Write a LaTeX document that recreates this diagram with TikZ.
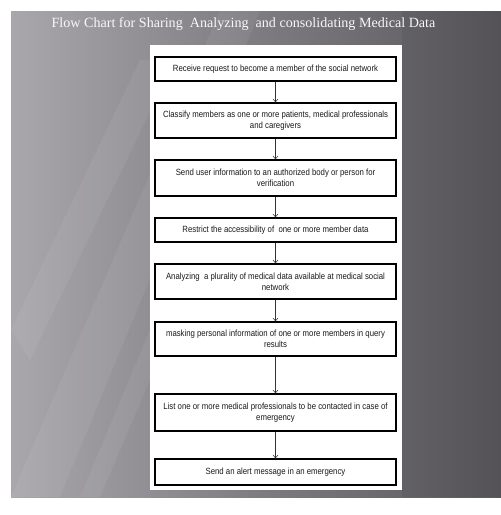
\documentclass[tikz,border=0pt]{standalone}
\usepackage{fontspec}
\usetikzlibrary{arrows.meta}
\newfontfamily\boxfont[FakeStretch=0.865]{Liberation Sans}
\newfontfamily\titlefont{Liberation Serif}
\definecolor{bgleft}{HTML}{A9A7AC}
\definecolor{bgmid}{HTML}{7E7C81}
\definecolor{bgright}{HTML}{5A585D}
\tikzset{
  fbox/.style={draw=black, line width=1.3pt, fill=white, minimum width=241pt,
    inner sep=1pt, align=center, font=\boxfont\fontsize{9}{11}\selectfont, text=black!90},
  arr/.style={draw=black!80, line width=0.5pt, -{Straight Barb[length=3pt,width=5pt]}},
  streak/.style={fill=white, opacity=0.06}
}
\begin{document}
\begin{tikzpicture}[x=1pt,y=-1pt]
\useasboundingbox (0,0) rectangle (501,515);
\fill[white] (0,0) rectangle (501,515);
% gradient background
\shade[left color=bgleft, right color=bgright, middle color=bgmid] (11,11) rectangle (501,497);
% diagonal light streaks
\fill[streak] (11,330) -- (140,60) -- (175,60) -- (30,360) -- cycle;
\fill[streak] (11,497) -- (60,497) -- (260,11) -- (220,11) -- cycle;
\fill[streak] (80,497) -- (100,497) -- (150,380) -- (150,330) -- cycle;
\fill[black, opacity=0.06] (402,11) -- (501,11) -- (501,497) -- (402,497) -- cycle;
% title
\node[text=white!94!gray, font=\titlefont\fontsize{14.1}{16}\selectfont, anchor=base] (title) at (243.5,27) {Flow Chart for Sharing\ \ Analyzing\ \ and consolidating Medical Data};
% white panel
\fill[white] (150,45) rectangle (402,490);
% boxes
\node[fbox, minimum height=24pt] (b1) at (275.5,69) {Receive request to become a member of the social network};
\node[fbox, minimum height=35pt] (b2) at (275.5,120.5) {Classify members as one or more patients, medical professionals\\and caregivers};
\node[fbox, minimum height=36pt] (b3) at (275.5,178) {Send user information to an authorized body or person for\\verification};
\node[fbox, minimum height=24pt] (b4) at (275.5,230) {Restrict the accessibility of\ \ one or more member data};
\node[fbox, minimum height=35pt] (b5) at (275.5,281.5) {Analyzing\ \ a plurality of medical data available at medical social\\network};
\node[fbox, minimum height=34pt] (b6) at (275.5,339) {masking personal information of one or more members in query\\results};
\node[fbox, minimum height=37pt] (b7) at (275.5,412.5) {List one or more medical professionals to be contacted in case of\\emergency};
\node[fbox, minimum height=26pt] (b8) at (275.5,472) {Send an alert message in an emergency};
% arrows
\draw[arr] (b1.south) -- (b2.north);
\draw[arr] (b2.south) -- (b3.north);
\draw[arr] (b3.south) -- (b4.north);
\draw[arr] (b4.south) -- (b5.north);
\draw[arr] (b5.south) -- (b6.north);
\draw[arr] (b6.south) -- (b7.north);
\draw[arr] (b7.south) -- (b8.north);
\end{tikzpicture}
\end{document}
